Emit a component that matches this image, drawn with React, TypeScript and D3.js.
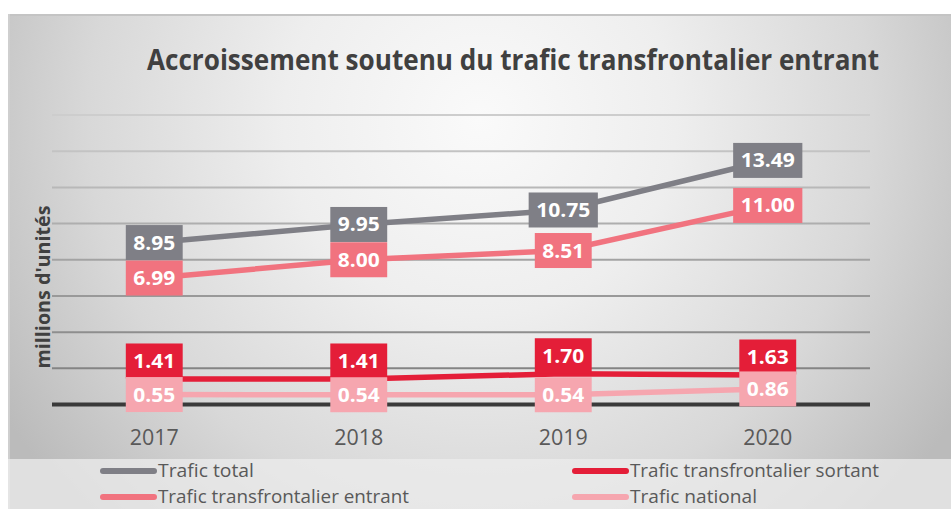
import React, { useLayoutEffect } from "react";
import * as d3 from "d3";

const years = ["2017", "2018", "2019", "2020"];
const traficTotal = [8.95, 9.95, 10.75, 13.49];
const traficSortant = [1.41, 1.41, 1.7, 1.63];
const traficEntrant = [6.99, 8.0, 8.51, 11.0];
const traficNational = [0.55, 0.54, 0.54, 0.86];
const yTicks = [0, 2, 4, 6, 8, 10, 12, 14, 16];

const seriesNames = [
  "Trafic total",
  "Trafic transfrontalier sortant",
  "Trafic transfrontalier entrant",
  "Trafic national",
];
const seriesValues = [traficTotal, traficSortant, traficEntrant, traficNational];
const seriesColors = ["#7f7f86", "#e41e38", "#f1737f", "#f6a6af"];
const labelAbove = [false, true, false, false];

const W = 951;
const H = 509;
const FONT = "'Open Sans', 'DejaVu Sans', sans-serif";

function labelTextWidth(s: string) {
  let w = 0;
  for (const c of s) w += c === "." ? 5 : 12.3;
  return w;
}

export default function App() {
  useLayoutEffect(() => {
    document.body.style.margin = "0";
  }, []);

  const x = d3.scaleBand<string>().domain(years).range([52, 870]).padding(0);
  const y = d3.scaleLinear().domain([0, 16]).range([404.5, 115]);
  const cx = (yr: string) => (x(yr) as number) + x.bandwidth() / 2;
  const gridColor = d3
    .scaleLinear<string>()
    .domain([16, 2])
    .range(["#cdcdcd", "#848484"])
    .interpolate(d3.interpolateRgb);

  const line = d3
    .line<number>()
    .x((_, i) => cx(years[i]))
    .y((v) => y(v));

  const legendItems = seriesNames.map((name, i) => ({
    name,
    color: seriesColors[i],
    col: i % 2,
    row: Math.floor(i / 2),
  }));
  const legendLineX = [100, 572];
  const legendRowY = [471, 497];
  const legendTextLen: Record<string, number> = {
    "Trafic total": 96,
    "Trafic transfrontalier sortant": 249,
    "Trafic transfrontalier entrant": 251,
    "Trafic national": 127,
  };

  return (
    <svg
      width={W}
      height={H}
      style={{ position: "absolute", left: 0, top: 0, display: "block" }}
      fontFamily={FONT}
    >
      <defs>
        <radialGradient
          id="bg"
          gradientUnits="userSpaceOnUse"
          cx={480}
          cy={120}
          r={560}
        >
          <stop offset="0" stopColor="#fafafa" />
          <stop offset="0.35" stopColor="#eeeeee" />
          <stop offset="0.7" stopColor="#d8d8d8" />
          <stop offset="1" stopColor="#bbbbbb" />
        </radialGradient>
      </defs>
      <rect x={0} y={0} width={W} height={H} fill="#ffffff" />
      <rect x={8} y={14} width={W - 8} height={H - 14} fill="url(#bg)" />
      <line x1={8} x2={W} y1={15} y2={15} stroke="#c4c4c4" strokeWidth={2} />
      <line x1={9} x2={9} y1={14} y2={H} stroke="#cfcfcf" strokeWidth={2} />

      {/* title */}
      <text
        x={147}
        y={70}
        fontSize={29}
        fontWeight={700}
        fill="#404040"
        textLength={732}
        lengthAdjust="spacingAndGlyphs"
      >
        Accroissement soutenu du trafic transfrontalier entrant
      </text>

      {/* gridlines */}
      {yTicks
        .filter((t) => t > 0)
        .map((t) => (
          <line
            key={t}
            x1={52}
            x2={870}
            y1={y(t)}
            y2={y(t)}
            stroke={gridColor(t)}
            strokeWidth={2}
          />
        ))}
      {/* zero axis */}
      <line x1={52} x2={870} y1={y(0)} y2={y(0)} stroke="#3a3a3a" strokeWidth={4} />

      {/* y-axis title */}
      <text
        transform={`translate(50, 287) rotate(-90)`}
        textAnchor="middle"
        fontSize={19}
        fontWeight={700}
        fill="#404040"
        textLength={163}
        lengthAdjust="spacingAndGlyphs"
      >
        millions d'unités
      </text>

      {/* category labels */}
      {years.map((yr) => (
        <text
          key={yr}
          x={cx(yr)}
          y={445}
          textAnchor="middle"
          fontSize={22}
          fill="#595959"
          textLength={49}
          lengthAdjust="spacingAndGlyphs"
        >
          {yr}
        </text>
      ))}

      {/* lines */}
      {seriesValues.map((vals, i) => (
        <path
          key={i}
          d={line(vals) || ""}
          fill="none"
          stroke={seriesColors[i]}
          strokeWidth={5.5}
        />
      ))}

      {/* data labels */}
      {seriesValues.map((vals, i) =>
        vals.map((v, j) => {
          const s = v.toFixed(2);
          const tw = labelTextWidth(s);
          const bw = tw + 15;
          const bh = 35;
          const px = cx(years[j]);
          const py = y(v) - (labelAbove[i] ? 18 : 0);
          return (
            <g key={`${i}-${j}`}>
              <rect
                x={px - bw / 2}
                y={py - bh / 2}
                width={bw}
                height={bh}
                fill={seriesColors[i]}
              />
              <text
                x={px}
                y={py + 7}
                textAnchor="middle"
                fontSize={19}
                fontWeight={700}
                fill="#ffffff"
                textLength={tw}
                lengthAdjust="spacingAndGlyphs"
              >
                {s}
              </text>
            </g>
          );
        })
      )}

      {/* legend */}
      <rect x={8} y={459} width={W - 8} height={H - 459} fill="#ececec" fillOpacity={0.75} />
      {legendItems.map((it) => (
        <g key={it.name}>
          <line
            x1={legendLineX[it.col] + 3}
            x2={legendLineX[it.col] + 54}
            y1={legendRowY[it.row]}
            y2={legendRowY[it.row]}
            stroke={it.color}
            strokeWidth={6}
            strokeLinecap="round"
          />
          <text
            x={legendLineX[it.col] + 58}
            y={legendRowY[it.row] + 6}
            fontSize={18}
            fill="#595959"
            textLength={legendTextLen[it.name]}
            lengthAdjust="spacingAndGlyphs"
          >
            {it.name}
          </text>
        </g>
      ))}
    </svg>
  );
}
